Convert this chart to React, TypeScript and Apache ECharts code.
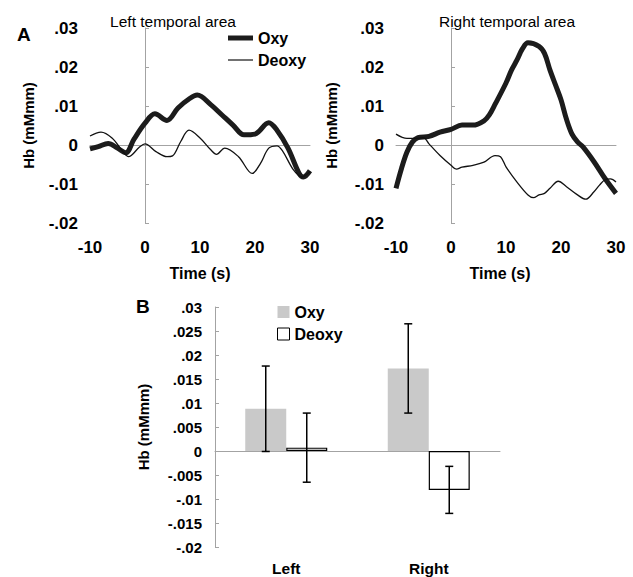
import React, { useEffect, useRef } from "react";
import * as echarts from "echarts";

// ---------- data ----------
const leftOxyT = [-10, -8.5, -6.7, -5, -3.5, -2, 0, 1.8, 4, 6, 8, 9.5, 12, 14, 16, 18, 20, 22.5, 24, 26, 28, 28.8, 30];
const leftOxyV = [-0.001, -0.0004, 0.0004, -0.0008, -0.002, 0.0015, 0.0056, 0.008, 0.0063, 0.0095, 0.0118, 0.0128, 0.0103, 0.0077, 0.0051, 0.0026, 0.0028, 0.0057, 0.0038, -0.0008, -0.0072, -0.0082, -0.0066];

const leftDeoxyT = [-10, -8, -6, -4, -3, -1, 0, 2, 4, 5, 6.5, 8, 10, 12, 13, 14.5, 17, 19.5, 21, 22.5, 24, 25, 27, 28.5, 30];
const leftDeoxyV = [0.0023, 0.0033, 0.0018, -0.0017, -0.003, -0.0005, 0.0003, -0.0017, -0.003, -0.0028, 0.0009, 0.0038, 0.0018, -0.0013, -0.0024, -0.0008, -0.003, -0.0073, -0.0047, -0.0008, -0.0002, -0.0015, -0.0064, -0.0082, -0.0068];

const rightOxyT = [-10, -9, -8, -7, -6, -4, -2, 0, 2, 4, 6, 7, 8, 10, 11, 12, 13, 14, 16, 17, 18, 19, 20, 21, 22, 23, 24, 26, 28, 30];
const rightOxyV = [-0.0111, -0.006, -0.0018, 0.0008, 0.0019, 0.0022, 0.0033, 0.004, 0.0051, 0.0051, 0.0062, 0.0078, 0.0104, 0.0159, 0.0192, 0.0218, 0.0247, 0.0262, 0.0253, 0.0235, 0.0192, 0.0154, 0.0116, 0.0066, 0.0028, 0.0008, -0.0005, -0.0043, -0.0086, -0.0124];

const rightDeoxyT = [-10, -8, -6, -5, -4, -2, 0, 1, 2, 4, 6, 8, 9, 10, 12, 14, 15, 16, 17, 18, 19.5, 21, 23, 24.5, 26, 27, 28, 29, 30];
const rightDeoxyV = [0.0028, 0.0017, 0.0017, 0.0019, 0.0003, -0.0027, -0.0052, -0.0062, -0.0057, -0.0052, -0.0044, -0.0027, -0.003, -0.0056, -0.0095, -0.0128, -0.0135, -0.0128, -0.0124, -0.0111, -0.0093, -0.0107, -0.0128, -0.0139, -0.012, -0.0103, -0.0089, -0.0087, -0.0095];

const regions = ["Left", "Right"];
const oxyMeans = [0.0088, 0.0172];
const oxyErr = [0.0089, 0.0093];
const deoxyMeans = [0.0007, -0.0081];
const deoxyErr = [0.0072, 0.0049];

// ---------- styling ----------
const FONT = "'Liberation Sans', Arial, sans-serif";
const GRAY = "#a3a3a3";
const INK = "#111";
const OXY_INK = "#1c1c1c";

const fmt = (v: number) => {
  const r = Math.round(v * 10000) / 10000;
  if (r === 0) return "0";
  return String(r).replace("0.", ".");
};

const pairs = (t: number[], v: number[]) => t.map((x, i) => [x, v[i]]);

function panelAxes(g: number, namePadding: number[]) {
  const xs = [
    {
      gridIndex: g, type: "value", min: -10, max: 30, interval: 10, position: "bottom",
      axisLine: { show: true, onZero: true, lineStyle: { color: GRAY, width: 1 } },
      axisTick: { show: false }, axisLabel: { show: false }, splitLine: { show: false },
    },
    {
      gridIndex: g, type: "value", min: -10, max: 30, interval: 10, position: "bottom",
      axisLine: { show: false, onZero: false }, axisTick: { show: false }, splitLine: { show: false },
      axisLabel: { margin: 16, fontSize: 17, fontWeight: "bold", color: "#000", fontFamily: FONT },
      name: "Time (s)", nameLocation: "middle", nameGap: 42,
      nameTextStyle: { fontSize: 16, fontWeight: "bold", color: "#000", fontFamily: FONT, padding: namePadding },
    },
  ];
  const ys: any[] = [
    {
      gridIndex: g, type: "value", min: -0.02, max: 0.03, interval: 0.01, position: "left",
      axisLine: { show: true, onZero: true, lineStyle: { color: GRAY, width: 1 } },
      axisTick: { show: true, inside: true, length: 4, lineStyle: { color: GRAY } },
      axisLabel: { show: false }, splitLine: { show: false },
    },
    {
      gridIndex: g, type: "value", min: -0.02, max: 0.03, interval: 0.01, position: "left",
      axisLine: { show: false, onZero: false }, axisTick: { show: false }, splitLine: { show: false },
      axisLabel: { margin: 12, fontSize: 17, fontWeight: "bold", color: "#000", fontFamily: FONT, formatter: fmt },
      name: "Hb (mMmm)", nameLocation: "middle", nameGap: 54, nameRotate: 90,
      nameTextStyle: { fontSize: 15, fontWeight: "bold", color: "#000", fontFamily: FONT },
    },
  ];
  return { xs, ys };
}

export default function App() {
  const ref = useRef<HTMLDivElement>(null);

  useEffect(() => {
    if (!ref.current) return;
    const chart = echarts.init(ref.current, undefined, { renderer: "svg" });

    const a0 = panelAxes(0, [0, 0, 0, 0]);
    const a1 = panelAxes(1, [0, 12, 0, 0]);
    a1.ys[1].nameGap = 57;

    const errSeries = (lo: number[], hi: number[], off: number) => ({
      type: "custom",
      xAxisIndex: 4,
      yAxisIndex: 4,
      z: 5,
      encode: { x: 0, y: [1, 2] },
      data: regions.map((_, i) => [i, lo[i], hi[i]]),
      renderItem: (_p: any, api: any) => {
        const x = api.value(0);
        const pLo = api.coord([x, api.value(1)]);
        const pHi = api.coord([x, api.value(2)]);
        const cx = pLo[0] + off;
        const cap = 4;
        const st = { stroke: "#000", lineWidth: 1.5 };
        return {
          type: "group",
          children: [
            { type: "line", shape: { x1: cx, y1: pLo[1], x2: cx, y2: pHi[1] }, style: st },
            { type: "line", shape: { x1: cx - cap, y1: pLo[1], x2: cx + cap, y2: pLo[1] }, style: st },
            { type: "line", shape: { x1: cx - cap, y1: pHi[1], x2: cx + cap, y2: pHi[1] }, style: st },
          ],
        };
      },
    });

    const option: any = {
      animation: false,
      backgroundColor: "#fff",
      grid: [
        { left: 90, top: 28, width: 220, height: 195, outerBoundsMode: "none" },
        { left: 396, top: 28, width: 220, height: 195, outerBoundsMode: "none" },
        { left: 215, top: 307, width: 285, height: 240, outerBoundsMode: "none" },
      ],
      xAxis: [
        ...a0.xs,
        ...a1.xs,
        {
          gridIndex: 2, type: "category", data: regions, position: "bottom",
          axisLine: { show: true, onZero: true, lineStyle: { color: GRAY, width: 1 } },
          axisTick: { show: false }, axisLabel: { show: false },
        },
        {
          gridIndex: 2, type: "category", data: regions, position: "bottom",
          axisLine: { show: false, onZero: false }, axisTick: { show: false },
          axisLabel: { margin: 13, fontSize: 15.5, fontWeight: "bold", color: "#000", fontFamily: FONT },
        },
      ],
      yAxis: [
        ...a0.ys,
        ...a1.ys,
        {
          gridIndex: 2, type: "value", min: -0.02, max: 0.03, interval: 0.005, position: "left",
          axisLine: { show: true, onZero: false, lineStyle: { color: GRAY, width: 1 } },
          axisTick: { show: true, inside: true, length: 4, lineStyle: { color: GRAY } },
          splitLine: { show: false },
          axisLabel: { margin: 13, fontSize: 15, fontWeight: "bold", color: "#000", fontFamily: FONT, formatter: fmt },
          name: "Hb (mMmm)", nameLocation: "middle", nameGap: 64, nameRotate: 90,
          nameTextStyle: { fontSize: 15, fontWeight: "bold", color: "#000", fontFamily: FONT },
        },
      ],
      legend: [
        {
          left: 228, top: 30, orient: "vertical", itemWidth: 25, itemHeight: 16, itemGap: 6, padding: 0,
          selectedMode: false,
          data: [
            { name: "Oxy", icon: "path://M0,0H25V5H0Z", itemStyle: { color: OXY_INK, borderWidth: 0 } },
            { name: "Deoxy", icon: "path://M0,0H25V1.2H0Z", itemStyle: { color: INK, borderWidth: 0 } },
          ],
          textStyle: { fontSize: 16, fontWeight: "bold", color: "#000", fontFamily: FONT },
        },
        {
          left: 277, top: 304, orient: "vertical", itemWidth: 12, itemHeight: 12, itemGap: 6, padding: 0,
          selectedMode: false,
          data: [
            { name: "Oxy ", icon: "rect", itemStyle: { color: "#c9c9c9", borderWidth: 0 } },
            { name: "Deoxy ", icon: "rect", itemStyle: { color: "#fff", borderColor: "#000", borderWidth: 1 } },
          ],
          formatter: (n: string) => n.trim(),
          textStyle: { fontSize: 16, fontWeight: "bold", color: "#000", fontFamily: FONT },
        },
      ],
      graphic: [
        { type: "text", x: 173, y: 21, style: { text: "Left temporal area", textAlign: "center", textVerticalAlign: "middle", font: `15.5px ${FONT}`, fill: "#000" } },
        { type: "text", x: 507, y: 21, style: { text: "Right temporal area", textAlign: "center", textVerticalAlign: "middle", font: `15.5px ${FONT}`, fill: "#000" } },
        { type: "text", x: 17, y: 34, style: { text: "A", textAlign: "left", textVerticalAlign: "middle", font: `bold 19px ${FONT}`, fill: "#000" } },
        { type: "text", x: 136, y: 306, style: { text: "B", textAlign: "left", textVerticalAlign: "middle", font: `bold 19px ${FONT}`, fill: "#000" } },
      ],
      series: [
        {
          type: "line", name: "Oxy", xAxisIndex: 0, yAxisIndex: 0, data: pairs(leftOxyT, leftOxyV),
          symbol: "none", showSymbol: false, smooth: 0.35, z: 3,
          lineStyle: { width: 5, color: OXY_INK }, itemStyle: { color: OXY_INK },
        },
        {
          type: "line", name: "Deoxy", xAxisIndex: 0, yAxisIndex: 0, data: pairs(leftDeoxyT, leftDeoxyV),
          symbol: "none", showSymbol: false, smooth: 0.35, z: 4,
          lineStyle: { width: 1.3, color: INK }, itemStyle: { color: INK },
        },
        {
          type: "line", name: "Oxy", xAxisIndex: 2, yAxisIndex: 2, data: pairs(rightOxyT, rightOxyV),
          symbol: "none", showSymbol: false, smooth: 0.35, z: 3,
          lineStyle: { width: 5, color: OXY_INK }, itemStyle: { color: OXY_INK },
        },
        {
          type: "line", name: "Deoxy", xAxisIndex: 2, yAxisIndex: 2, data: pairs(rightDeoxyT, rightDeoxyV),
          symbol: "none", showSymbol: false, smooth: 0.35, z: 4,
          lineStyle: { width: 1.3, color: INK }, itemStyle: { color: INK },
        },
        {
          type: "bar", name: "Oxy ", xAxisIndex: 4, yAxisIndex: 4, data: oxyMeans,
          barWidth: 41, barGap: "0%", itemStyle: { color: "#c9c9c9" },
        },
        {
          type: "bar", name: "Deoxy ", xAxisIndex: 4, yAxisIndex: 4, data: deoxyMeans,
          barWidth: 41, barGap: "0%", itemStyle: { color: "#fff", borderColor: "#000", borderWidth: 1.2 },
        },
        errSeries(oxyMeans.map((m, i) => m - oxyErr[i]), oxyMeans.map((m, i) => m + oxyErr[i]), -20.5),
        errSeries(deoxyMeans.map((m, i) => m - deoxyErr[i]), deoxyMeans.map((m, i) => m + deoxyErr[i]), 20.5),
      ],
    };

    chart.setOption(option);
    return () => chart.dispose();
  }, []);

  return (
    <div
      ref={ref}
      style={{ position: "fixed", left: 0, top: 0, width: 633, height: 577, background: "#fff" }}
    />
  );
}
